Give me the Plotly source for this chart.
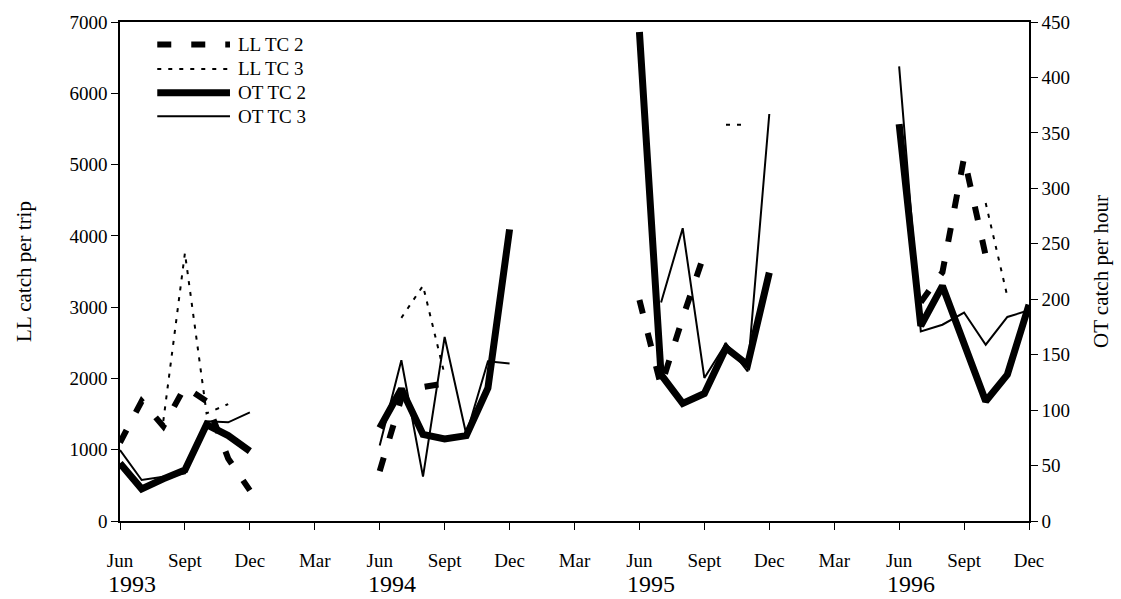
import plotly.graph_objects as go

# ---------------- data ----------------
years = [1993, 1994, 1995, 1996]
months = ["Jun", "Jul", "Aug", "Sept", "Oct", "Nov", "Dec"]   # season months per year

# LL catch per trip (left axis), 7 monthly values per year, Jun..Dec
ll_tc2 = [1100, 1680, 1330, 1880, 1680, 875, 430,
          700, 1720, 1880, 1930, None, None, None,
          3100, 1890, 2850, 3750, None, None, None,
          None, 3070, 3490, 5100, 3720, None, None]
ll_tc3 = [None, None, 1400, 3760, 1510, 1640, None,
          None, 2850, 3300, 2050, None, None, None,
          None, None, None, None, 5560, 5560, None,
          None, None, None, None, 4460, 3150, None]
# OT catch per hour (right axis)
ot_tc2 = [52, 29, 38, 46, 87, 77, 63,
          84, 119, 78, 74, 77, 120, 263,
          441, 132, 106, 115, 156, 141, 224,
          358, 176, 212, 159, 108, 132, 195]
ot_tc3 = [64, 37, 40, 43, 90, 89, 98,
          68, 145, 40, 166, 78, 144, 142,
          None, 197, 264, 129, 160, 135, 367,
          410, 171, 177, 188, 159, 184, 190]

tick_labels = ["Jun", "Sept", "Dec", "Mar"]
series_names = ["LL TC 2", "LL TC 3", "OT TC 2", "OT TC 3"]


def build(values):
    xs, ys = [], []
    for i, yr in enumerate(years):
        for k in range(len(months)):
            xs.append((yr - years[0]) * 12 + k)
            ys.append(values[i * len(months) + k])
        xs.append(None)
        ys.append(None)
    return xs, ys


styles = {
    "LL TC 2": dict(width=6, dash="14px,20px"),
    "LL TC 3": dict(width=2, dash="4px,7px"),
    "OT TC 2": dict(width=7, dash="solid"),
    "OT TC 3": dict(width=2, dash="solid"),
}

fig = go.Figure()
for name, vals, axis in [("LL TC 2", ll_tc2, "y"), ("LL TC 3", ll_tc3, "y"),
                         ("OT TC 2", ot_tc2, "y2"), ("OT TC 3", ot_tc3, "y2")]:
    xs, ys = build(vals)
    fig.add_trace(go.Scatter(x=xs, y=ys, mode="lines", name=name, yaxis=axis,
                             connectgaps=False,
                             line=dict(color="black", **styles[name]),
                             showlegend=False))

n_quarters = (len(years) - 1) * 4 + 2
tickvals = [3 * i for i in range(n_quarters + 1)]
ticktext = [tick_labels[i % 4] for i in range(n_quarters + 1)]

FONT = "Liberation Serif, Times New Roman, serif"

fig.update_layout(
    width=1121, height=599,
    margin=dict(l=120, r=91, t=17, b=78),
    paper_bgcolor="white", plot_bgcolor="white",
    font=dict(family=FONT, size=19, color="black"),
    xaxis=dict(range=[0, 42], tickvals=tickvals, ticktext=ticktext,
               ticks="outside", ticklen=7, tickcolor="black", tickwidth=1,
               showline=True, linecolor="black", linewidth=1.5, mirror=True,
               showgrid=False, zeroline=False, ticklabelstandoff=14,
               tickfont=dict(size=19)),
    yaxis=dict(range=[0, 7000], dtick=1000, ticks="outside", ticklen=7,
               tickcolor="black", showline=True, linecolor="black", linewidth=1.5,
               showgrid=False, zeroline=False,
               title=dict(text="LL catch per trip", font=dict(size=21), standoff=32),
               tickfont=dict(size=19)),
    yaxis2=dict(range=[0, 450], dtick=50, overlaying="y", side="right",
                ticks="outside", ticklen=7, tickcolor="black", showline=True,
                linecolor="black", linewidth=1.5, showgrid=False, zeroline=False,
                title=dict(text="OT catch per hour", font=dict(size=21), standoff=24),
                tickfont=dict(size=19)),
)

# year labels under the June ticks
for yr in years:
    fig.add_annotation(x=(yr - years[0]) * 12, y=-0.127, xref="x", yref="paper",
                       text=str(yr), showarrow=False, xshift=12,
                       font=dict(size=24, family=FONT), yanchor="middle")

# manual legend (top-left inside the plot)
leg_rows = [0.955, 0.906, 0.858, 0.811]
for name, yrow in zip(series_names, leg_rows):
    st = styles[name]
    fig.add_shape(type="line", xref="paper", yref="paper",
                  x0=0.041, x1=0.121, y0=yrow, y1=yrow,
                  line=dict(color="black", width=st["width"], dash=st["dash"]))
    fig.add_annotation(x=0.128, y=yrow, xref="paper", yref="paper", text=name,
                       showarrow=False, xanchor="left", yanchor="middle",
                       font=dict(size=19, family=FONT))

fig.write_html("out.html")
